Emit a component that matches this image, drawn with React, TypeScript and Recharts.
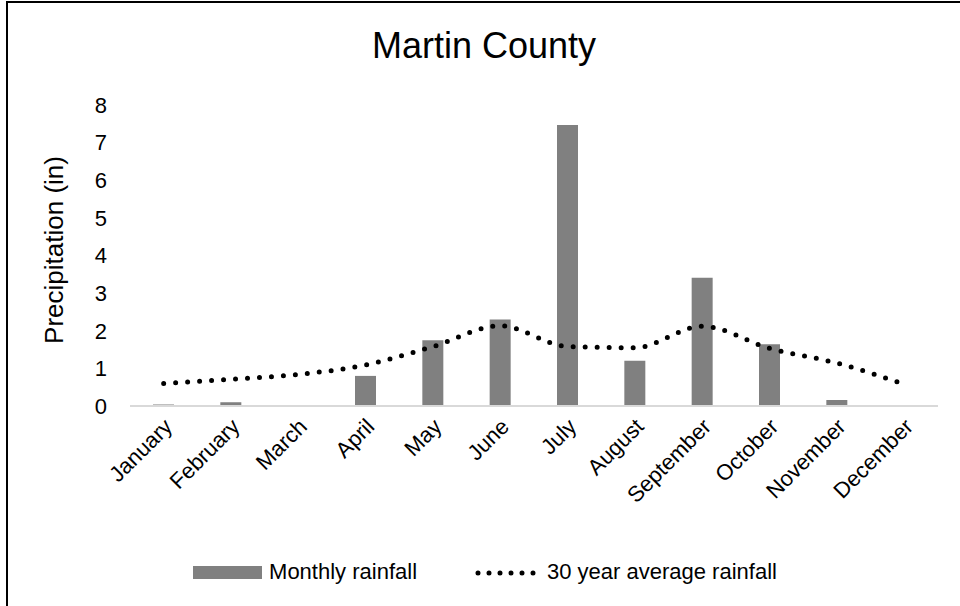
import React from "react";
import { ComposedChart, Bar, Line, XAxis, YAxis, Legend } from "recharts";

const months = [
  "January", "February", "March", "April", "May", "June",
  "July", "August", "September", "October", "November", "December",
];
const monthlyRainfall = [0.04, 0.1, 0, 0.8, 1.75, 2.3, 7.47, 1.2, 3.41, 1.64, 0.16, 0.02];
const averageRainfall = [0.6, 0.71, 0.84, 1.09, 1.58, 2.13, 1.58, 1.55, 2.12, 1.53, 1.14, 0.58];
const yTicks = [0, 1, 2, 3, 4, 5, 6, 7, 8];

const data = months.map((m, i) => ({
  month: m,
  rain: monthlyRainfall[i],
  avg: averageRainfall[i],
}));

const FONT = '"Liberation Sans", Arial, sans-serif';

const MonthTick = (props: any) => {
  const { x, y, payload } = props;
  const ax = x + 10;
  const ay = y + 22;
  return (
    <text
      x={ax}
      y={ay}
      transform={`rotate(-45 ${ax} ${ay})`}
      textAnchor="end"
      fontSize={22}
      fill="#000"
      fontFamily={FONT}
    >
      {payload.value}
    </text>
  );
};

const LegendBox = () => (
  <div
    style={{
      display: "flex",
      justifyContent: "center",
      alignItems: "center",
      paddingLeft: 10,
      fontFamily: FONT,
      fontSize: 22,
      color: "#000",
    }}
  >
    <span style={{ width: 69, height: 13, background: "#808080", marginRight: 7 }} />
    <span style={{ marginRight: 58 }}>Monthly rainfall</span>
    <svg width={63} height={13} style={{ marginRight: 9 }}>
      <line
        x1={3}
        y1={7}
        x2={62}
        y2={7}
        stroke="#000"
        strokeWidth={5}
        strokeLinecap="round"
        strokeDasharray="0 11"
      />
    </svg>
    <span>30 year average rainfall</span>
  </div>
);

export default function App() {
  return (
    <div style={{ position: "absolute", left: 0, top: 0, width: 960, height: 606, background: "#fff" }}>
      <div
        style={{
          position: "absolute",
          left: 6,
          top: 1,
          right: 0,
          bottom: 0,
          borderTop: "2px solid #000",
          borderLeft: "2px solid #000",
        }}
      />
      <div
        style={{
          position: "absolute",
          top: 25,
          left: 0,
          width: 968,
          textAlign: "center",
          fontFamily: FONT,
          fontSize: 36,
          lineHeight: "42px",
          color: "#000",
        }}
      >
        Martin County
      </div>
      <ComposedChart
        width={960}
        height={606}
        data={data}
        margin={{ top: 105, right: 22, bottom: 0, left: 0 }}
        style={{ position: "absolute", left: 0, top: 0 }}
      >
        <XAxis
          dataKey="month"
          height={200}
          interval={0}
          tickLine={false}
          tickSize={0}
          tickMargin={0}
          axisLine={{ stroke: "#d9d9d9", strokeWidth: 2 }}
          tick={<MonthTick />}
        />
        <YAxis
          width={130}
          domain={[0, 8]}
          ticks={yTicks}
          interval={0}
          axisLine={false}
          tickLine={false}
          tickSize={0}
          tickMargin={23}
          tick={{ fontSize: 22, fill: "#000", fontFamily: FONT }}
          label={{
            content: () => (
              <text
                x={63}
                y={250}
                transform="rotate(-90 63 250)"
                textAnchor="middle"
                fontSize={26}
                fill="#000"
                fontFamily={FONT}
              >
                Precipitation (in)
              </text>
            ),
          }}
        />
        <Legend
          verticalAlign="middle"
          align="center"
          wrapperStyle={{ top: 559, left: 0, width: 960 }}
          content={<LegendBox />}
        />
        <Bar dataKey="rain" name="Monthly rainfall" fill="#808080" barSize={21} isAnimationActive={false} />
        <Line
          dataKey="avg"
          name="30 year average rainfall"
          type="monotone"
          stroke="#000"
          strokeWidth={5}
          strokeLinecap="round"
          strokeDasharray="0 12"
          dot={false}
          activeDot={false}
          isAnimationActive={false}
        />
      </ComposedChart>
    </div>
  );
}
